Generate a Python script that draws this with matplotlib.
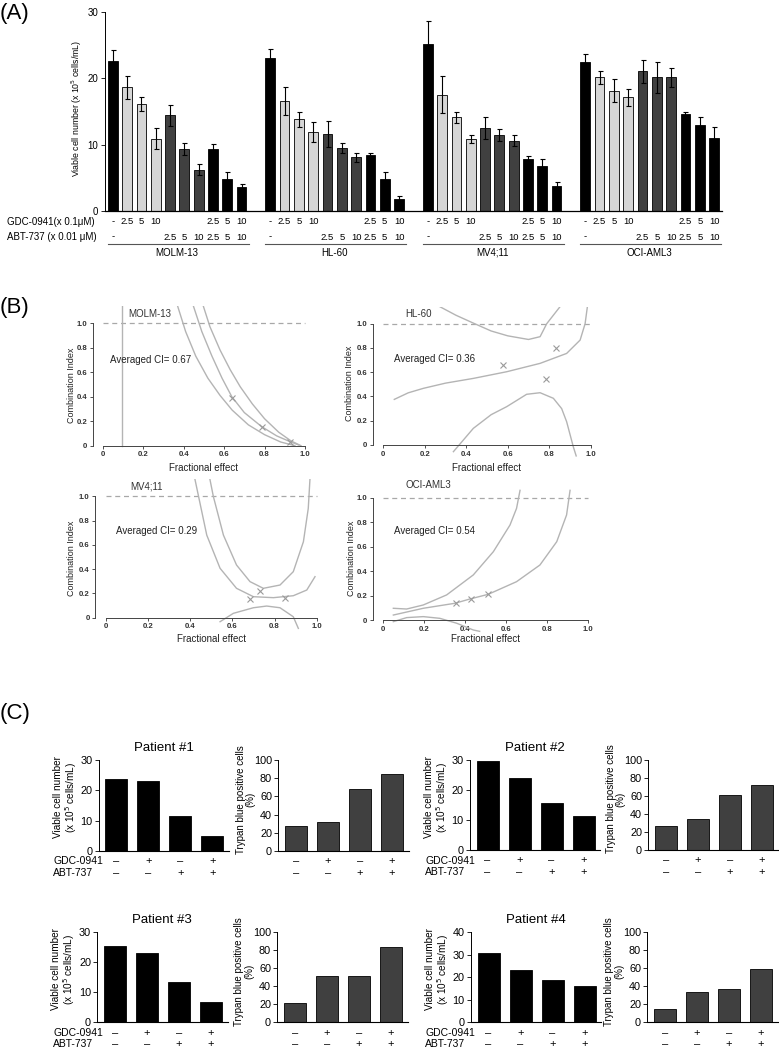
import matplotlib
matplotlib.use("Agg")
import matplotlib.pyplot as plt
from matplotlib.transforms import blended_transform_factory
import numpy as np

plt.rcParams['font.family'] = ['Liberation Sans', 'DejaVu Sans']

W, H = 779, 1048
fig = plt.figure(figsize=(W / 100, H / 100), dpi=100)


def box(left, top, right, bottom):
    # pixel box -> figure fraction rect
    return [left / W, 1 - bottom / H, (right - left) / W, (bottom - top) / H]


def ftext(px, py, s, **kw):
    return fig.text(px / W, 1 - py / H, s, **kw)


# ---------------- (A) data ----------------
cell_lines = ['MOLM-13', 'HL-60', 'MV4;11', 'OCI-AML3']
molm13_mean = [22.6, 18.6, 16.1, 10.9, 14.4, 9.4, 6.2, 9.4, 4.8, 3.6]
molm13_err = [1.7, 1.7, 1.1, 1.6, 1.6, 0.9, 0.8, 0.7, 1.1, 0.4]
hl60_mean = [23.1, 16.6, 13.8, 11.9, 11.6, 9.5, 8.1, 8.4, 4.8, 1.8]
hl60_err = [1.3, 2.1, 1.1, 1.5, 2.0, 0.8, 0.7, 0.4, 1.0, 0.4]
mv411_mean = [25.1, 17.5, 14.1, 10.8, 12.5, 11.5, 10.6, 7.8, 6.8, 3.7]
mv411_err = [3.5, 2.8, 0.8, 0.6, 1.7, 0.9, 0.8, 0.5, 1.0, 0.6]
oci_mean = [22.5, 20.1, 18.1, 17.1, 21.0, 20.1, 20.1, 14.6, 13.0, 11.0]
oci_err = [1.1, 1.0, 1.7, 1.3, 1.8, 2.4, 1.4, 0.3, 1.1, 1.7]
gdc_doses = ['-', '2.5', '5', '10', '', '', '', '2.5', '5', '10']
abt_doses = ['-', '', '', '', '2.5', '5', '10', '2.5', '5', '10']

LIGHT = '#d6d6d6'
DARK = '#404040'
bar_colors = ['black', LIGHT, LIGHT, LIGHT, DARK, DARK, DARK, 'black', 'black', 'black']

axA = fig.add_axes(box(105, 11.7, 722, 211))
tA = blended_transform_factory(axA.transData, fig.transFigure)
for g, (m, e) in enumerate(zip([molm13_mean, hl60_mean, mv411_mean, oci_mean],
                               [molm13_err, hl60_err, mv411_err, oci_err])):
    xs = g * 11 + np.arange(10)
    axA.bar(xs, m, width=0.68, color=bar_colors, edgecolor='black', linewidth=0.6,
            yerr=e, error_kw=dict(ecolor='black', elinewidth=0.8, capsize=1.8, capthick=0.8))
    for x, d1, d2 in zip(xs, gdc_doses, abt_doses):
        axA.text(x, 1 - 222 / H, d1, transform=tA, ha='center', va='center', fontsize=6.8)
        axA.text(x, 1 - 237 / H, d2, transform=tA, ha='center', va='center', fontsize=6.8)
    axA.plot([xs[0] - 0.35, xs[-1] + 0.5], [1 - 244 / H] * 2, transform=tA,
             color='#555555', lw=0.8, clip_on=False)
    axA.text(xs[0] + 4.5, 1 - 253 / H, cell_lines[g], transform=tA, ha='center',
             va='center', fontsize=7)

axA.set_xlim(-0.54, 42.55)
axA.set_ylim(0, 30)
axA.set_yticks([0, 10, 20, 30])
axA.set_xticks([])
axA.tick_params(axis='y', labelsize=7, length=3, width=0.6, pad=2)
for s in ['top', 'right']:
    axA.spines[s].set_visible(False)
axA.spines['left'].set_linewidth(0.7)
axA.spines['bottom'].set_linewidth(0.9)
ftext(77, 108, 'Viable cell number (x 10$^5$ cells/mL)', rotation=90, ha='center',
      va='center', fontsize=6.3)
ftext(7, 222, 'GDC-0941(x 0.1\u03bcM)', ha='left', va='center', fontsize=7)
ftext(7, 237, 'ABT-737 (x 0.01 \u03bcM)', ha='left', va='center', fontsize=7)
ftext(0, 13, '(A)', ha='left', va='center', fontsize=16)

# ---------------- (B) data ----------------
molm_lo_x = [0.37, 0.41, 0.46, 0.52, 0.58, 0.64, 0.72, 0.80, 0.88, 0.95]
molm_lo_y = [1.14, 0.93, 0.73, 0.55, 0.41, 0.29, 0.17, 0.09, 0.03, 0.0]
molm_mid_x = [0.448, 0.49, 0.54, 0.59, 0.638, 0.70, 0.786, 0.86, 0.926, 0.97]
molm_mid_y = [1.14, 0.93, 0.73, 0.55, 0.40, 0.27, 0.155, 0.08, 0.033, 0.005]
molm_hi_x = [0.497, 0.53, 0.58, 0.63, 0.68, 0.74, 0.80, 0.87, 0.93, 0.98]
molm_hi_y = [1.14, 0.97, 0.78, 0.62, 0.48, 0.34, 0.22, 0.11, 0.04, 0.0]
molm_vline_x = [0.097, 0.097]
molm_vline_y = [0.0, 1.14]
molm_pts_x = [0.638, 0.786, 0.926]
molm_pts_y = [0.386, 0.155, 0.033]

hl_hi_x = [0.273, 0.35, 0.434, 0.52, 0.60, 0.70, 0.756, 0.788, 0.82, 0.852]
hl_hi_y = [1.14, 1.07, 1.005, 0.94, 0.90, 0.87, 0.893, 1.0, 1.07, 1.14]
hl_mid_x = [0.053, 0.12, 0.193, 0.30, 0.434, 0.595, 0.756, 0.884, 0.949, 0.973, 0.984]
hl_mid_y = [0.376, 0.43, 0.467, 0.51, 0.549, 0.604, 0.673, 0.755, 0.865, 1.0, 1.14]
hl_lo_x = [0.338, 0.434, 0.52, 0.595, 0.691, 0.756, 0.82, 0.86, 0.884, 0.916, 0.93]
hl_lo_y = [-0.055, 0.137, 0.25, 0.316, 0.418, 0.431, 0.385, 0.30, 0.192, -0.014, -0.09]
hl_pts_x = [0.576, 0.833, 0.783]
hl_pts_y = [0.66, 0.797, 0.544]

mv_out_x = [0.423, 0.44, 0.479, 0.542, 0.62, 0.70, 0.795, 0.889, 0.953, 0.992]
mv_out_y = [1.14, 1.0, 0.68, 0.407, 0.242, 0.173, 0.165, 0.181, 0.228, 0.338]
mv_in_x = [0.494, 0.51, 0.558, 0.62, 0.684, 0.747, 0.826, 0.889, 0.937, 0.96, 0.968]
mv_in_y = [1.14, 1.0, 0.68, 0.434, 0.297, 0.242, 0.269, 0.379, 0.626, 0.90, 1.14]
mv_lo_x = [0.542, 0.605, 0.70, 0.763, 0.826, 0.889, 0.913]
mv_lo_y = [-0.033, 0.036, 0.082, 0.096, 0.082, 0.008, -0.088]
mv_pts_x = [0.684, 0.731, 0.85]
mv_pts_y = [0.154, 0.22, 0.165]

oci_hi_x = [0.049, 0.114, 0.195, 0.309, 0.439, 0.537, 0.618, 0.65, 0.667]
oci_hi_y = [0.098, 0.092, 0.125, 0.207, 0.37, 0.56, 0.777, 0.913, 1.06]
oci_mid_x = [0.049, 0.195, 0.35, 0.423, 0.512, 0.65, 0.764, 0.846, 0.894, 0.911]
oci_mid_y = [0.043, 0.098, 0.139, 0.174, 0.212, 0.315, 0.451, 0.641, 0.859, 1.06]
oci_lo_x = [0.049, 0.114, 0.195, 0.276, 0.358, 0.439, 0.47]
oci_lo_y = [-0.011, 0.022, 0.03, 0.016, -0.024, -0.079, -0.09]
oci_pts_x = [0.354, 0.426, 0.512]
oci_pts_y = [0.139, 0.174, 0.212]

avg_ci = ['0.67', '0.36', '0.29', '0.54']

CURVE = '#b4b4b4'


def ci_panel(x0, x1, y0, y1, curves, pts, name, avg, name_xy, avg_xy, ylab_px, xlab_py):
    sx = x1 - x0
    sy = y0 - y1
    ax = fig.add_axes(box(x0 - 0.05 * sx, y1 - 0.14 * sy, x1 + 0.05 * sx, y0 + 0.12 * sy))
    ax.set_xlim(-0.05, 1.05)
    ax.set_ylim(-0.12, 1.14)
    ax.plot([0, 1.0], [1.0, 1.0], color='#a8a8a8', lw=0.9, ls=(0, (4, 3)))
    for cx, cy in curves:
        ax.plot(cx, cy, color=CURVE, lw=1.0)
    ax.plot(pts[0], pts[1], ls='none', marker='x', ms=4, mew=0.8, color='#9a9a9a')
    for s in ['top', 'right']:
        ax.spines[s].set_visible(False)
    ax.spines['bottom'].set_position(('data', 0))
    ax.spines['bottom'].set_bounds(0, 1)
    ax.spines['left'].set_bounds(0, 1)
    for s in ['bottom', 'left']:
        ax.spines[s].set_color('#444444')
        ax.spines[s].set_linewidth(0.7)
    ticks = [0, 0.2, 0.4, 0.6, 0.8, 1.0]
    labels = ['0', '0.2', '0.4', '0.6', '0.8', '1.0']
    ax.set_xticks(ticks, labels)
    ax.set_yticks(ticks, labels)
    ax.tick_params(labelsize=5.6, length=2.5, width=0.6, pad=1.5, colors='#333333')
    for lab in ax.get_xticklabels() + ax.get_yticklabels():
        lab.set_fontweight('bold')
    ax.text(name_xy[0], name_xy[1], name, fontsize=7, color='#333333', va='center')
    ax.text(avg_xy[0], avg_xy[1], 'Averaged CI= ' + avg, fontsize=7, color='#222222',
            va='center')
    ftext(ylab_px[0], ylab_px[1], 'Combination Index', rotation=90, ha='center',
          va='center', fontsize=6.5, color='#222222')
    ftext((x0 + x1) / 2, xlab_py, 'Fractional effect', ha='center', va='center',
          fontsize=7, color='#222222')
    return ax


ci_panel(102.7, 305, 445.7, 323,
         [(molm_lo_x, molm_lo_y), (molm_mid_x, molm_mid_y), (molm_hi_x, molm_hi_y),
          (molm_vline_x, molm_vline_y)],
         (molm_pts_x, molm_pts_y), 'MOLM-13', avg_ci[0], (0.127, 1.07), (0.036, 0.70),
         (71, 385), 468)
ci_panel(383.3, 590.7, 445, 323.7,
         [(hl_hi_x, hl_hi_y), (hl_mid_x, hl_mid_y), (hl_lo_x, hl_lo_y)],
         (hl_pts_x, hl_pts_y), 'HL-60', avg_ci[1], (0.105, 1.08), (0.053, 0.706),
         (350, 383), 468)
ci_panel(105.7, 316.7, 617.7, 496.3,
         [(mv_out_x, mv_out_y), (mv_in_x, mv_in_y), (mv_lo_x, mv_lo_y)],
         (mv_pts_x, mv_pts_y), 'MV4;11', avg_ci[2], (0.115, 1.08), (0.049, 0.714),
         (72, 558), 639)
ci_panel(383.3, 588.3, 620.3, 497.7,
         [(oci_hi_x, oci_hi_y), (oci_mid_x, oci_mid_y), (oci_lo_x, oci_lo_y)],
         (oci_pts_x, oci_pts_y), 'OCI-AML3', avg_ci[3], (0.106, 1.10), (0.054, 0.728),
         (351, 558), 639)
ftext(0, 308, '(B)', ha='left', va='center', fontsize=16)

# ---------------- (C) data ----------------
patients = ['Patient #1', 'Patient #2', 'Patient #3', 'Patient #4']
viable = [[23.7, 23.0, 11.4, 4.8], [29.6, 24.0, 15.8, 11.3],
          [25.4, 22.9, 13.3, 6.8], [30.8, 23.3, 18.9, 15.9]]
trypan = [[27.0, 32.2, 68.1, 85.2], [27.0, 34.1, 60.7, 72.6],
          [21.4, 51.7, 51.7, 83.4], [15.1, 33.6, 37.3, 59.0]]
viable_ymax = [30, 30, 30, 40]
gdc_signs = ['\u2013', '+', '\u2013', '+']
abt_signs = ['\u2013', '\u2013', '+', '+']

viable_left = [98.7, 470, 97.3, 471]
trypan_left = [278.3, 648.3, 277.3, 647.3]
c_top = [760.3, 760, 932, 932]
c_bottom = [850.7, 850, 1022.3, 1022.3]
row_label_x = [53, 425, 53, 425]
SLOT = 32.0


def small_bar(left, top, bottom, vals, color, ymax, step):
    ax = fig.add_axes(box(left, top, left + 4.07 * SLOT, bottom))
    ax.bar(np.arange(4), vals, width=0.69, color=color, edgecolor='black', linewidth=0.6)
    ax.set_xlim(-0.55, 3.52)
    ax.set_ylim(0, ymax)
    ax.set_yticks(np.arange(0, ymax + 1, step))
    ax.set_xticks([])
    for s in ['top', 'right']:
        ax.spines[s].set_visible(False)
    ax.spines['left'].set_linewidth(0.7)
    ax.spines['bottom'].set_linewidth(0.8)
    ax.tick_params(axis='y', labelsize=7.8, length=3, width=0.6, pad=1.5)
    t = blended_transform_factory(ax.transData, fig.transFigure)
    for i in range(4):
        ax.text(i, 1 - (bottom + 10.5) / H, gdc_signs[i], transform=t, ha='center',
                va='center', fontsize=8)
        ax.text(i, 1 - (bottom + 22) / H, abt_signs[i], transform=t, ha='center',
                va='center', fontsize=8)
    return ax


for p in range(4):
    vl, tl, top, bot = viable_left[p], trypan_left[p], c_top[p], c_bottom[p]
    small_bar(vl, top, bot, viable[p], 'black', viable_ymax[p], 10)
    small_bar(tl, top, bot, trypan[p], DARK, 100, 20)
    mid = (top + bot) / 2
    ftext(vl + 2.03 * SLOT, top - 12, patients[p], ha='center', va='center', fontsize=9.5)
    ftext(vl - 33, mid - 8, 'Viable cell number\n(x 10$^5$ cells/mL)', rotation=90,
          ha='center', va='center', fontsize=7.2, linespacing=1.0)
    ftext(tl - 33, mid - 6, 'Trypan blue positive cells\n(%)', rotation=90,
          ha='center', va='center', fontsize=7, linespacing=0.95)
    ftext(row_label_x[p], bot + 10.5, 'GDC-0941', ha='left', va='center', fontsize=7.5)
    ftext(row_label_x[p], bot + 22, 'ABT-737', ha='left', va='center', fontsize=7.5)

ftext(0, 713, '(C)', ha='left', va='center', fontsize=16)

fig.savefig('out.png', dpi=100)
